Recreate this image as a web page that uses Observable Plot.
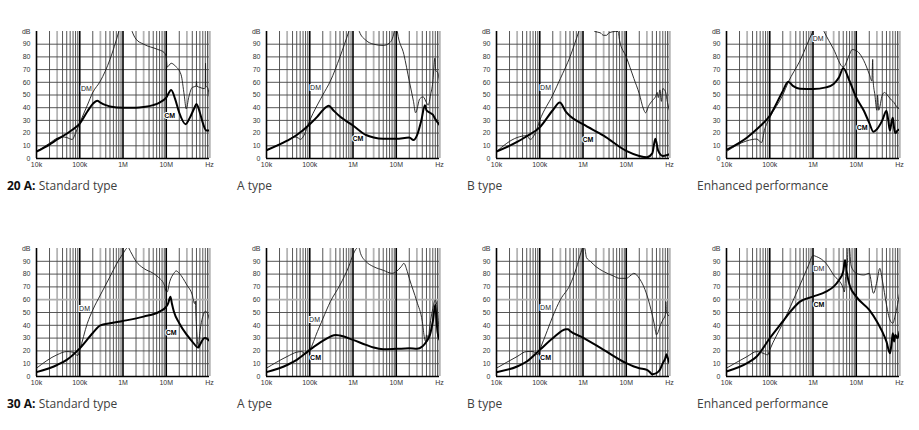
<!DOCTYPE html>
<html><head><meta charset="utf-8">
<script src="https://cdn.jsdelivr.net/npm/d3@7"></script>
<script src="https://cdn.jsdelivr.net/npm/@observablehq/plot@0.6"></script>
<style>
body{margin:0;background:#fff;}
#root{position:relative;width:919px;height:430px;overflow:hidden;background:#fff;}
.panel{position:absolute;}
.title{position:absolute;font-family:'Open Sans',sans-serif;font-size:12px;line-height:12px;color:#404040;white-space:nowrap;}
.title b{color:#111;font-weight:700;}
</style></head><body><div id="root"></div>
<script>
// Axis ticks (frequency in kHz)
const xTicks = [10, 100, 1000, 10000, 100000];
const xTickLabels = ["10k", "100k", "1M", "10M", "Hz"];
const yTicks = [0, 10, 20, 30, 40, 50, 60, 70, 80, 90, 100];
const yTickLabels = ["0", "10", "20", "30", "40", "50", "60", "70", "80", "90", "dB"];

// Panel titles
const rowLabels = ["20 A:", "30 A:"];
const typeNames = ["Standard type", "A type", "B type", "Enhanced performance"];

// Series: [frequency kHz, dB]
const std20_CM = [[10,5.5],[20,11],[30,15],[50,19.5],[70,23],[100,27.5],[150,37],[200,43],[253,45.5],[300,44],[400,42],[500,41],[1000,40],[2000,40],[3000,40.5],[5000,42],[7000,44],[10000,48],[13000,54],[16000,47],[20000,36],[28000,27],[35000,32],[45000,40],[50000,43],[60000,36],[70000,28],[85000,22],[100000,22]];
const std20_DM = [[10,5.5],[20,12],[30,16],[40,17],[50,16.5],[67,15],[80,20],[100,28],[150,42],[200,52],[300,61],[500,78],[800,100],[1000,112],[1300,112],[1630,100],[2000,94],[3000,90],[6200,86],[8900,83.5],[10000,80],[10500,72],[13000,75],[16000,73],[22000,66],[26000,50],[29000,39],[33000,48],[40000,56],[49000,57],[50000,61],[51000,57],[60000,56],[75000,55],[80000,56],[81000,75],[82000,57],[90000,56],[100000,48]];
const a20_CM = [[10,6.5],[30,14],[50,18.5],[100,27],[150,33],[200,38],[276,41.5],[350,38],[500,33],[1000,26],[2000,18.5],[3000,16.5],[5000,15.5],[10000,15.5],[20000,16.5],[25000,14.5],[30000,18],[38000,30],[46000,42],[50000,38],[60000,36],[70000,34.5],[80000,31],[100000,26.5]];
const a20_DM = [[10,6.5],[30,14],[45,17],[55,16],[61,15],[70,17],[100,30],[200,50],[300,61],[500,80],[800,100],[1000,110],[1200,110],[1400,100],[2000,93],[3000,90],[5000,89],[7000,91],[9000,100],[9500,112],[10000,112],[10600,100],[15000,82],[20000,61],[25000,45],[28000,36],[35000,47],[42000,48.5],[50000,44],[55000,42],[62000,50],[70000,60],[78000,79],[82000,69],[90000,68],[100000,61]];
const b20_CM = [[10,5.5],[30,13],[50,17.5],[100,24.5],[200,38],[290,44],[400,37],[500,33.5],[1000,27],[3000,18],[10000,6],[20000,2],[30000,1],[40000,4],[47000,15.5],[55000,6],[70000,2],[85000,2.5],[100000,3.5]];
const b20_DM = [[10,5.5],[30,16.5],[50,18],[60,15],[80,20.5],[100,30],[200,50],[300,63],[500,80],[800,100],[1000,110],[1900,100],[2500,99],[3000,97],[3500,97],[4000,99],[5600,100],[6500,100],[7000,93],[10000,80],[15000,63],[20000,51],[25000,39],[28000,36],[33000,41.5],[40000,45.5],[48000,49],[52000,52],[55000,48],[60000,54],[65000,45],[70000,55],[80000,53],[90000,44],[100000,37.5]];
const enh20_CM = [[10,6.8],[30,16.6],[50,23],[100,33.7],[200,53],[267,60.5],[350,57],[500,55],[1000,54.7],[2000,56],[3000,58.7],[4000,64],[5000,71],[7000,61],[10000,48],[15000,37.6],[20000,28],[25000,21],[30000,23],[40000,30],[50000,37.6],[55000,30],[60000,22],[65000,28],[70000,32],[75000,24],[80000,20],[90000,22],[100000,23]];
const enh20_DM = [[10,5.5],[30,14],[50,15.3],[65,12.6],[75,22],[100,32],[200,50],[267,60],[500,77],[1000,100],[1400,108],[1800,100],[3000,86],[5000,72],[7000,82],[8000,85.8],[10000,85],[15000,77],[20000,66.5],[23000,61],[24000,78],[24500,62],[27000,50],[30000,38],[31000,50],[33000,38],[40000,50],[45000,52],[55000,49],[65000,46],[75000,44],[85000,41],[100000,39]];
const std30_CM = [[10,3.4],[30,9],[50,13],[100,22],[200,34],[300,40],[500,41.6],[1000,43.4],[3000,46.8],[7000,50.7],[10000,54.6],[11000,57],[12500,62.4],[13500,57],[15000,50.7],[20000,41.6],[30000,32.5],[40000,27.3],[55000,22.6],[60000,24.7],[75000,29.9],[80000,30],[100000,27.8]];
const std30_DM = [[10,6.5],[30,17],[50,19.5],[70,19],[90,16.4],[100,20.8],[150,41.6],[200,52],[300,63.7],[500,78],[800,91],[1000,96],[1200,100],[1300,101],[1500,97.5],[2000,90],[3000,84.5],[5000,80.6],[7000,76.7],[9000,71.5],[10000,66.3],[10500,66],[12000,74],[15000,80.6],[17000,82.5],[20000,80.6],[30000,71.5],[40000,63.7],[45000,57],[47000,59],[49000,45],[55000,23.4],[60000,35],[70000,46.8],[80000,51],[90000,49.4],[100000,44]];
const a30_CM = [[10,3.4],[30,9],[50,13],[100,20.8],[200,27.8],[400,32.5],[500,32],[1000,28.6],[2000,24.7],[3000,22.6],[5000,21.3],[10000,21.6],[20000,22],[30000,21.6],[40000,23.4],[50000,27.3],[60000,32.5],[70000,43],[80000,56],[85000,45],[90000,35],[100000,28.6]];
const a30_DM = [[10,6.5],[30,15.6],[50,19],[65,19.5],[80,17.7],[100,20.8],[150,35],[200,45],[300,58.5],[500,71.5],[800,86],[1000,95],[1200,100],[1350,101],[1500,96],[2000,89.8],[3000,85.8],[5000,83],[8000,80.6],[10000,82],[13000,85.8],[15000,88.4],[18000,82],[20000,76.7],[30000,58.5],[40000,43],[45000,30],[48000,27.3],[50000,32.5],[55000,30],[60000,40],[70000,53],[80000,59.8],[90000,50.7],[100000,28.6]];
const b30_CM = [[10,3.4],[30,7.8],[50,11.7],[100,20.8],[200,29.9],[400,36.9],[450,37],[500,35.6],[1000,30.4],[3000,20.8],[10000,10.4],[15000,7.8],[20000,6.5],[30000,5.2],[35000,3.4],[40000,1.8],[50000,2.6],[60000,5.2],[70000,10.4],[80000,14.3],[85000,17.4],[90000,15],[100000,10.4]];
const b30_DM = [[10,6.5],[30,15.6],[50,19.5],[70,19.5],[90,17],[100,20.8],[150,36],[200,47],[300,60],[500,71.5],[700,84.5],[900,97],[1000,101],[1100,100],[1200,93],[1500,89.8],[2000,85.8],[3000,82],[5000,78.6],[7000,76.7],[10000,76.7],[13000,79.3],[15000,80.6],[20000,76.7],[30000,63.7],[40000,48],[45000,40],[50000,32.5],[55000,35],[60000,39],[70000,44.2],[80000,48],[82000,58.5],[85000,50.7],[100000,46.8]];
const enh30_CM = [[10,3.9],[30,10.4],[50,15.6],[100,29.9],[200,43],[300,50.7],[500,58.5],[1000,62.4],[2000,66.3],[3000,70.2],[4000,75.4],[5000,82],[5500,91],[6000,82],[7000,71.5],[10000,62.4],[20000,52],[30000,43],[40000,35],[50000,27.3],[60000,18.2],[65000,24.7],[70000,33.8],[75000,27.3],[80000,32.5],[90000,30],[100000,35]];
const enh30_DM = [[10,6.5],[30,15.6],[50,19.5],[70,18.2],[90,16.9],[100,20.8],[200,41.6],[300,54.6],[500,71.5],[800,87.4],[1000,94.5],[1200,93.7],[2000,88.4],[3000,79.3],[5000,69],[5300,66],[5800,82],[6200,87],[6500,102],[7000,100],[7500,87.4],[8500,83],[10000,80.6],[15000,79.3],[20000,80.6],[25000,65],[30000,74],[35000,84.5],[40000,75.4],[50000,56],[60000,44.2],[70000,41.6],[80000,48],[90000,56],[100000,65]];

// Curve labels: [frequency kHz, dB] for "DM" and "CM"
const dmLabelPos = [[143,54.7],[136,56],[136,56],[1320,94],[129,53],[129,44],[136,54],[1370,84]];
const cmLabelPos = [[12000,33.7],[1300,15.3],[1300,14.5],[13700,24],[13000,34.3],[136,15],[136,15],[1370,55.7]];

const seriesDM = [std20_DM, a20_DM, b20_DM, enh20_DM, std30_DM, a30_DM, b30_DM, enh30_DM];
const seriesCM = [std20_CM, a20_CM, b20_CM, enh20_CM, std30_CM, a30_CM, b30_CM, enh30_CM];

// grid lines derived from decades
const decades = [10, 100, 1000, 10000];
const minorX = decades.flatMap(d => [2,4,5,6,7,8,9].map(m => m * d));
const greyX = decades.map(d => 3 * d);
const majorX = [100, 1000, 10000];
const yGrid = [10,20,30,40,50,70,80,90];

function makePanel(i) {
  const row = Math.floor(i / 4);
  const mt = row === 0 ? 11 : 13;
  const ph = row === 0 ? 127 : 128;
  const fmtX = d => xTickLabels[xTicks.indexOf(d)];
  const fmtY = d => yTickLabels[yTicks.indexOf(d)];
  return Plot.plot({
    width: 230, height: mt + ph + 20,
    marginLeft: 36, marginRight: 21, marginTop: mt, marginBottom: 20,
    x: {type: "log", domain: [10, 100000]},
    y: {domain: [0, 100]},
    style: {fontFamily: "'Liberation Sans', Arial, sans-serif", fontSize: "7px", color: "#333", background: "transparent", overflow: "visible"},
    marks: [
      Plot.ruleX(minorX, {stroke: "#444", strokeWidth: 0.9}),
      Plot.ruleX(greyX, {stroke: "#b5b5b5", strokeWidth: 1.8}),
      Plot.ruleX([100000], {stroke: "#b5b5b5", strokeWidth: 2.5}),
      Plot.ruleY(yGrid, {stroke: "#444", strokeWidth: 0.9}),
      Plot.ruleY([60], {stroke: row === 0 ? "#444" : "#b0b0b0", strokeWidth: row === 0 ? 0.9 : 1.8}),
      Plot.ruleX(majorX, {stroke: "#000", strokeWidth: 1.6}),
      Plot.ruleX([10], {stroke: "#000", strokeWidth: 1.6}),
      Plot.ruleY([0], {stroke: "#000", strokeWidth: 1.6}),
      Plot.line(seriesDM[i], {x: d => d[0], y: d => d[1], stroke: "#1a1a1a", strokeWidth: 0.9, curve: "monotone-x", clip: true}),
      Plot.line(seriesCM[i], {x: d => d[0], y: d => d[1], stroke: "#000", strokeWidth: 2, curve: "monotone-x", clip: true}),
      Plot.text([dmLabelPos[i]], {x: d => d[0], y: d => d[1], text: () => "DM", fontSize: 7, fill: "#222", stroke: "white", strokeWidth: 2, paintOrder: "stroke"}),
      Plot.text([cmLabelPos[i]], {x: d => d[0], y: d => d[1], text: () => "CM", fontSize: 7, fontWeight: "bold", fill: "#000", stroke: "white", strokeWidth: 2, paintOrder: "stroke"}),
      Plot.axisX({ticks: xTicks, tickFormat: fmtX, tickSize: 0, tickPadding: 4, label: null}),
      Plot.axisY({ticks: yTicks, tickFormat: fmtY, tickSize: 0, tickPadding: 6, label: null})
    ]
  });
}

const root = document.getElementById("root");
for (let i = 0; i < 8; i++) {
  const row = Math.floor(i / 4), col = i % 4;
  const svg = makePanel(i);
  svg.classList.add("panel");
  svg.style.left = (col * 230) + "px";
  svg.style.top = (row === 0 ? 20 : 235) + "px";
  root.appendChild(svg);
  const t = document.createElement("div");
  t.className = "title";
  t.style.left = (col * 230 + 7) + "px";
  t.style.top = (row === 0 ? 179.5 : 397.5) + "px";
  if (col === 0) {
    const b = document.createElement("b");
    b.textContent = rowLabels[row];
    t.appendChild(b);
    t.appendChild(document.createTextNode(" " + typeNames[col]));
  } else {
    t.textContent = typeNames[col];
  }
  root.appendChild(t);
}
</script></body></html>
